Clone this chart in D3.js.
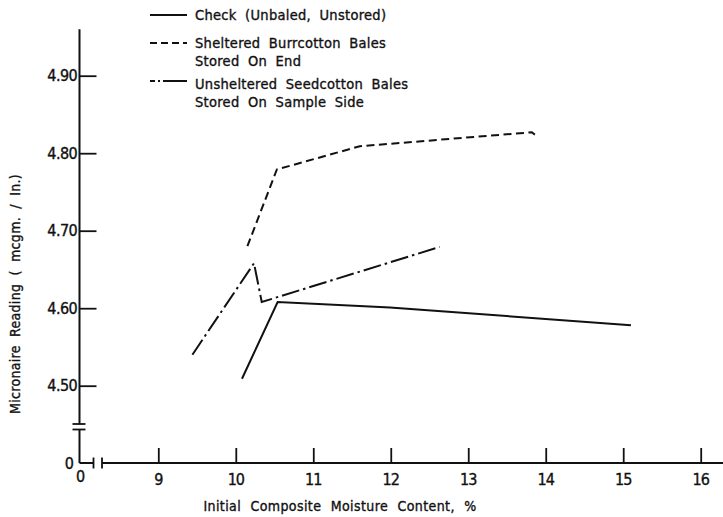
<!DOCTYPE html>
<html><head><meta charset="utf-8">
<script src="https://cdn.jsdelivr.net/npm/d3@7"></script>
<style>
html,body{margin:0;padding:0;background:#fff;}
svg{display:block;}
text{font-family:"DejaVu Sans Condensed","DejaVu Sans",sans-serif;font-stretch:condensed;fill:#111;stroke:#111;stroke-width:0.35px;}
</style></head>
<body>
<svg id="chart" width="723" height="517"></svg>
<script>
// ---- data ----
const xTicks = [9, 10, 11, 12, 13, 14, 15, 16];
const yTicks = [4.5, 4.6, 4.7, 4.8, 4.9];
const yTickLabels = ["4.50", "4.60", "4.70", "4.80", "4.90"];

const checkX = [10.08, 10.54, 11.99, 15.10];
const checkY = [4.509, 4.608, 4.601, 4.578];

const shelteredX = [10.15, 10.53, 11.60, 13.82, 13.86];
const shelteredY = [4.680, 4.779, 4.809, 4.827, 4.824];

const unshelteredX = [9.44, 10.235, 10.335, 12.63];
const unshelteredY = [4.540, 4.658, 4.608, 4.679];

const seriesNames = ["Check (Unbaled, Unstored)", "Sheltered Burrcotton Bales|Stored On End", "Unsheltered Seedcotton Bales|Stored On Sample Side"];

// ---- drawing ----
const svg = d3.select("#chart");
const ink = "#111";
const x = d3.scaleLinear().domain([9, 16]).range([158.3, 700.7]);
const y = d3.scaleLinear().domain([4.5, 4.9]).range([385.7, 75.7]);

const originX = 79.5, originY = 463;

// y axis (upper part)
const yAxis = d3.axisRight(y).tickValues(yTicks).tickSize(17).tickFormat("");
const gy = svg.append("g").attr("transform", `translate(${originX},0)`).call(yAxis);
gy.select(".domain").remove();
gy.selectAll("line").attr("stroke", ink).attr("stroke-width", 1.8);
svg.append("line").attr("x1", originX).attr("x2", originX).attr("y1", y(4.96)).attr("y2", 424)
  .attr("stroke", ink).attr("stroke-width", 2);
// break marks y
[[424],[429.5]].forEach(([yy]) => {
  svg.append("line").attr("x1", originX - 7).attr("x2", originX + 6).attr("y1", yy).attr("y2", yy)
    .attr("stroke", ink).attr("stroke-width", 1.8);
});
svg.append("line").attr("x1", originX).attr("x2", originX).attr("y1", 429.5).attr("y2", originY)
  .attr("stroke", ink).attr("stroke-width", 2);
// y tick labels
svg.append("g").selectAll("text").data(yTicks).join("text")
  .attr("x", 77).attr("y", d => y(d)).attr("dy", "0.36em")
  .attr("text-anchor", "end").attr("font-size", 16).attr("letter-spacing", -0.6)
  .text((d, i) => yTickLabels[i]);
svg.append("text").attr("x", 74).attr("y", originY).attr("dy", "0.36em")
  .attr("text-anchor", "end").attr("font-size", 16).text("0");

// x axis
svg.append("line").attr("x1", originX).attr("x2", 93.5).attr("y1", originY).attr("y2", originY)
  .attr("stroke", ink).attr("stroke-width", 2);
[93.5, 102].forEach(xx => {
  svg.append("line").attr("x1", xx).attr("x2", xx).attr("y1", originY - 5.5).attr("y2", originY + 5.5)
    .attr("stroke", ink).attr("stroke-width", 1.8);
});
svg.append("line").attr("x1", 102).attr("x2", 723).attr("y1", originY).attr("y2", originY)
  .attr("stroke", ink).attr("stroke-width", 2);
const xAxis = d3.axisTop(x).tickValues(xTicks).tickSize(15).tickFormat("");
const gx = svg.append("g").attr("transform", `translate(0,${originY})`).call(xAxis);
gx.select(".domain").remove();
gx.selectAll("line").attr("stroke", ink).attr("stroke-width", 1.8);
svg.append("g").selectAll("text").data(xTicks).join("text")
  .attr("x", d => x(d)).attr("y", 485).attr("text-anchor", "middle").attr("font-size", 16)
  .attr("letter-spacing", -1).text(d => d);
svg.append("text").attr("x", originX + 1).attr("y", 482).attr("text-anchor", "middle")
  .attr("font-size", 16).text("0");

// axis titles
svg.append("text").attr("x", 340).attr("y", 511).attr("text-anchor", "middle")
  .attr("font-size", 14).attr("word-spacing", 5).attr("letter-spacing", 0.4)
  .text("Initial Composite Moisture Content, %");
svg.append("text").attr("transform", "translate(20,294) rotate(-90)").attr("text-anchor", "middle")
  .attr("font-size", 14).attr("word-spacing", 4).attr("letter-spacing", 0.3)
  .text("Micronaire Reading ( mcgm. / In.)");

// series
const line = d3.line().x(d => x(d[0])).y(d => y(d[1]));
const series = [
  {xs: checkX, ys: checkY, dash: null},
  {xs: shelteredX, ys: shelteredY, dash: "8,4.5"},
  {xs: unshelteredX, ys: unshelteredY, dash: "18,4,2.5,4"}
];
series.forEach(s => {
  svg.append("path").datum(s.xs.map((v, i) => [v, s.ys[i]]))
    .attr("d", line).attr("fill", "none").attr("stroke", ink).attr("stroke-width", 2)
    .attr("stroke-dasharray", s.dash).attr("stroke-linejoin", "miter");
});

// legend
const legendRows = [{y: 15, dash: null}, {y: 43, dash: "7,4"}, {y: 81, dash: "5,3,2,3,30"}];
const legendBase = [[20], [48, 66], [89, 107]];
legendRows.forEach((r, i) => {
  svg.append("line").attr("x1", 150).attr("x2", 187).attr("y1", r.y).attr("y2", r.y)
    .attr("stroke", ink).attr("stroke-width", 2).attr("stroke-dasharray", r.dash);
  seriesNames[i].split("|").forEach((t, j) => {
    svg.append("text").attr("x", 195).attr("y", legendBase[i][j]).attr("font-size", 14.5)
      .attr("word-spacing", 4).attr("letter-spacing", 0.3).text(t);
  });
});
</script>
</body></html>
